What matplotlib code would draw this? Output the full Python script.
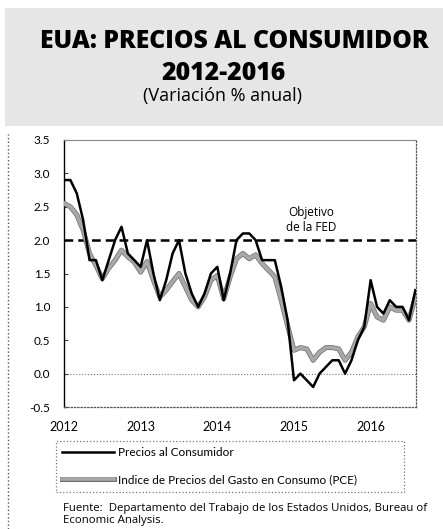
import matplotlib
matplotlib.use("Agg")
import matplotlib.pyplot as plt
import matplotlib.patheffects as pe
from matplotlib.patches import Rectangle
from matplotlib.lines import Line2D
import numpy as np

# monthly y/y % change, Jan 2012 .. Aug 2016
cpi = [2.9, 2.9, 2.7, 2.3, 1.7, 1.7, 1.4, 1.7, 2.0, 2.2, 1.8, 1.7,
       1.6, 2.0, 1.5, 1.1, 1.4, 1.8, 2.0, 1.5, 1.2, 1.0, 1.2, 1.5,
       1.6, 1.1, 1.5, 2.0, 2.1, 2.1, 2.0, 1.7, 1.7, 1.7, 1.3, 0.8,
       -0.1, 0.0, -0.1, -0.2, 0.0, 0.1, 0.2, 0.2, 0.0, 0.2, 0.5, 0.7,
       1.4, 1.0, 0.9, 1.1, 1.0, 1.0, 0.8, 1.25]
pce = [2.55, 2.5, 2.38, 2.15, 1.8, 1.62, 1.42, 1.58, 1.7, 1.85, 1.75, 1.67,
       1.52, 1.68, 1.4, 1.15, 1.25, 1.38, 1.5, 1.3, 1.1, 1.0, 1.15, 1.4,
       1.47, 1.12, 1.45, 1.72, 1.8, 1.72, 1.78, 1.65, 1.55, 1.45, 1.1, 0.72,
       0.35, 0.39, 0.37, 0.2, 0.32, 0.39, 0.39, 0.37, 0.2, 0.32, 0.55, 0.7,
       1.05, 0.85, 0.8, 1.0, 0.95, 0.95, 0.8, 1.15]
years = ["2012", "2013", "2014", "2015", "2016"]
yticks = [-0.5, 0.0, 0.5, 1.0, 1.5, 2.0, 2.5, 3.0, 3.5]
fed_target = 2.0

W, H = 443, 529
def fx(px): return px / W
def fy(py): return 1 - py / H

fig = plt.figure(figsize=(W / 100, H / 100), dpi=100)
fig.patch.set_facecolor("white")

# speckled title band
fig.add_artist(Rectangle((fx(5), fy(126)), fx(438), 118 / H, transform=fig.transFigure,
                         facecolor="#e6e6e6", edgecolor="none", zorder=0))
fig.text(fx(234), fy(41), "EUA: PRECIOS AL CONSUMIDOR", ha="center", va="center",
         fontsize=17.8, fontweight="heavy", family="Open Sans")
fig.text(fx(224), fy(74), "2012-2016", ha="center", va="center",
         fontsize=17.8, fontweight="heavy", family="Open Sans")
fig.text(fx(223), fy(96), "(Variación % anual)", ha="center", va="center",
         fontsize=13, family="Open Sans")

# outer dotted border on the left
fig.add_artist(Line2D([fx(8), fx(8)], [0, fy(134)], transform=fig.transFigure,
                      ls=":", lw=1, color="#555555"))

ax = fig.add_axes([fx(64), fy(407), fx(416) - fx(64), fy(140) - fy(407)])
x = np.arange(len(cpi))

ax.axhline(fed_target, color="black", lw=1.8, dashes=(3.5, 2), zorder=2)
ax.axhline(0, color="#777777", lw=0.8, ls=":", zorder=1)

ax.plot(x, pce, color="#a8a8a8", lw=2.6, zorder=3,
        path_effects=[pe.Stroke(linewidth=3.6, foreground="#6e6e6e"), pe.Normal()],
        label="Indice de Precios del Gasto en Consumo (PCE)")
ax.plot(x, cpi, color="black", lw=1.8, zorder=4, label="Precios al Consumidor")

ax.set_xlim(0, 55.1)
ax.set_ylim(-0.5, 3.5)
ax.set_yticks(yticks)
ax.set_yticklabels([f"{v:.1f}" for v in yticks], family="Lato", fontsize=8.5)
ax.set_xticks([12 * i for i in range(len(years))])
ax.set_xticklabels(years, family="Lato", fontsize=9)
ax.tick_params(axis="y", direction="in", length=3, pad=10, color="#444444")
ax.tick_params(axis="x", length=0, pad=10)

ax.spines["left"].set_color("black")
ax.spines["left"].set_linewidth(1.0)
ax.spines["top"].set_color("#888888")
ax.spines["top"].set_linewidth(0.8)
for s in ("right", "bottom"):
    ax.spines[s].set_linestyle(":")
    ax.spines[s].set_color("#555555")
    ax.spines[s].set_linewidth(0.9)

ax.text(38.7, 2.3, "Objetivo\nde la FED", ha="center", va="center",
        fontsize=8.5, family="Open Sans", linespacing=1.2)

h, l = ax.get_legend_handles_labels()
leg = fig.legend(h[::-1], l[::-1], loc="upper left",
                 bbox_to_anchor=(fx(50), fy(496), fx(410) - fx(50), 61 / H),
                 mode="expand", frameon=True, fancybox=False,
                 handlelength=4.4, handletextpad=0.3, labelspacing=1.35,
                 borderpad=0.55, prop={"family": "Lato", "size": 8.5})
leg.get_frame().set_linestyle(":")
leg.get_frame().set_edgecolor("#555555")
leg.get_frame().set_linewidth(0.9)

fig.text(fx(63), fy(503), "Fuente:  Departamento del Trabajo de los Estados Unidos, Bureau of\nEconomic Analysis.",
         ha="left", va="top", fontsize=8.2, family="Open Sans", linespacing=1.1)

fig.savefig("out.png", dpi=100)
